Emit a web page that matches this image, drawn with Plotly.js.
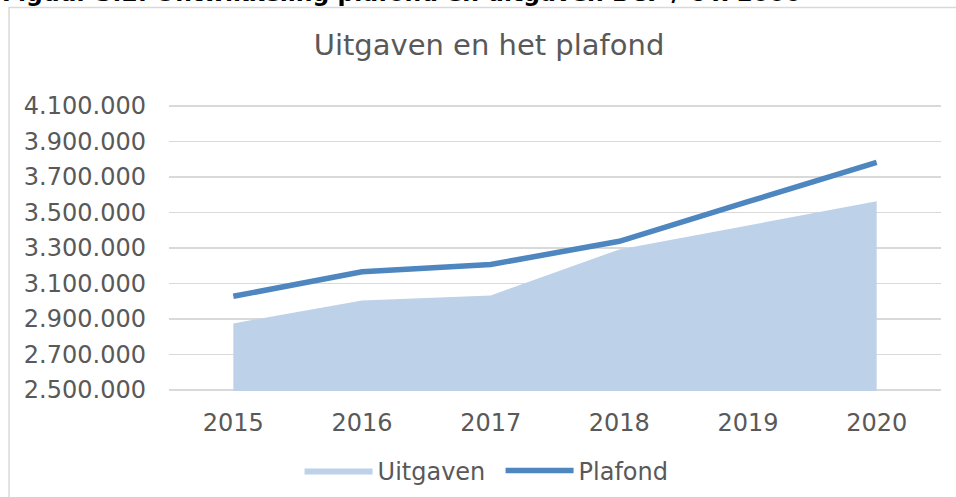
<!DOCTYPE html>
<html>
<head>
<meta charset="utf-8">
<script src="https://cdn.plot.ly/plotly-3.0.1.min.js"></script>
<style>html,body{margin:0;padding:0;background:#fff;}#chart{width:956px;height:497px;}</style>
</head>
<body>
<div id="chart"></div>
<script>
var years = ['2015', '2016', '2017', '2018', '2019', '2020'];
var uitgaven = [2875000, 3004000, 3032000, 3292000, 3427000, 3564000];
var plafond = [3028000, 3166000, 3207000, 3338000, 3561000, 3783000];
var yTicks = [2500000, 2700000, 2900000, 3100000, 3300000, 3500000, 3700000, 3900000, 4100000];
var yTickText = ['2.500.000', '2.700.000', '2.900.000', '3.100.000', '3.300.000', '3.500.000', '3.700.000', '3.900.000', '4.100.000'];

var FONT = 'DejaVu Sans, Verdana, sans-serif';
var TXT = '#595959';

var traces = [
  {
    x: years, y: uitgaven, name: 'Uitgaven', type: 'scatter', mode: 'lines',
    fill: 'tozeroy', fillcolor: '#bdd1e9', line: {color: 'rgba(0,0,0,0)', width: 0},
    hoverinfo: 'x+y'
  },
  {
    x: years, y: plafond, name: 'Plafond', type: 'scatter', mode: 'lines',
    line: {color: '#4e86bf', width: 5.5}
  }
];

var layout = {
  width: 956, height: 497,
  paper_bgcolor: '#ffffff', plot_bgcolor: '#ffffff',
  margin: {l: 168.6, r: 14.6, t: 105, b: 105.5},
  font: {family: FONT, color: TXT, size: 24},
  title: {
    text: 'Uitgaven en het plafond',
    font: {family: FONT, size: 29, color: TXT},
    x: 0.5115, xref: 'container', xanchor: 'center',
    y: 0.9095, yref: 'container', yanchor: 'middle'
  },
  xaxis: {
    type: 'category', range: [-0.5, 5.5],
    showgrid: false, zeroline: false, showline: false,
    ticks: '', tickfont: {family: FONT, size: 24, color: TXT},
    ticklabelstandoff: 15
  },
  yaxis: {
    range: [2494000, 4106000], tickmode: 'array',
    tickvals: yTicks, ticktext: yTickText,
    showgrid: true, gridcolor: '#d9d9d9', gridwidth: 1.5,
    zeroline: false, showline: false, ticks: '',
    tickfont: {family: FONT, size: 24, color: TXT},
    ticklabelstandoff: 22
  },
  showlegend: true,
  legend: {
    orientation: 'h', xref: 'container', yref: 'container',
    x: 0.5236, xanchor: 'center', y: 0.0523, yanchor: 'middle',
    font: {family: FONT, size: 24, color: TXT},
    itemwidth: 68, entrywidth: 118, entrywidthmode: 'pixels',
    traceorder: 'normal', bgcolor: 'rgba(0,0,0,0)'
  },
  shapes: [
    {type: 'rect', xref: 'paper', yref: 'paper',
     x0: -0.2072, x1: 1.03, y0: -0.45, y1: 1.341,
     line: {color: '#d9d9d9', width: 1.5}, fillcolor: 'rgba(0,0,0,0)', layer: 'below'}
  ],
  annotations: [
    {text: '<b>Figuur 3.2: Ontwikkeling plafond en uitgaven BCF / € x 1000</b>',
     xref: 'paper', yref: 'paper', x: -0.2185, y: 1.3374,
     xanchor: 'left', yanchor: 'bottom', showarrow: false,
     font: {family: FONT, size: 23.5, color: '#000000'}}
  ]
};

Plotly.newPlot('chart', traces, layout, {displayModeBar: false, staticPlot: true});
</script>
</body>
</html>
